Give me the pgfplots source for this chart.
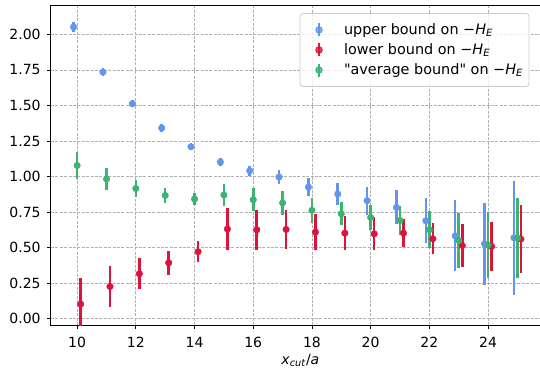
\documentclass[border=0pt]{standalone}
\usepackage{pgfplots}
\pgfplotsset{compat=1.18}
\usepackage{pgfplotstable}
\usepackage{fontspec}
\setmainfont{DejaVu Sans}
\definecolor{cblue}{RGB}{100,149,237}
\definecolor{cred}{RGB}{220,20,60}
\definecolor{cgreen}{RGB}{60,179,113}
\definecolor{cgrid}{RGB}{176,176,176}
\newcommand{\HE}{−\textit{H}\textsubscript{\textit{E}}}

\pgfplotstableread{
x y e
9.88 2.052 0.035
10.88 1.735 0.025
11.88 1.512 0.025
12.88 1.341 0.025
13.88 1.209 0.025
14.88 1.101 0.03
15.88 1.040 0.035
16.88 0.996 0.05
17.88 0.925 0.065
18.88 0.876 0.08
19.88 0.829 0.10
20.88 0.782 0.12
21.88 0.688 0.16
22.88 0.582 0.25
23.88 0.526 0.29
24.88 0.568 0.40
}\uppertab

\pgfplotstableread{
x y e
10.12 0.101 0.183
11.12 0.225 0.141
12.12 0.315 0.11
13.12 0.392 0.085
14.12 0.470 0.075
15.12 0.630 0.15
16.12 0.625 0.14
17.12 0.627 0.135
18.12 0.608 0.125
19.12 0.601 0.12
20.12 0.596 0.115
21.12 0.601 0.10
22.12 0.561 0.11
23.12 0.514 0.15
24.12 0.507 0.17
25.12 0.559 0.24
}\lowertab

\pgfplotstableread{
x y e
10 1.077 0.095
11 0.982 0.08
12 0.915 0.06
13 0.866 0.05
14 0.841 0.045
15 0.869 0.08
16 0.836 0.08
17 0.813 0.085
18 0.761 0.09
19 0.737 0.08
20 0.711 0.09
21 0.690 0.10
22 0.625 0.13
23 0.549 0.195
24 0.517 0.23
25 0.566 0.28
}\averagetab

\begin{document}
\fontsize{14}{17}\selectfont
\begin{tikzpicture}
\useasboundingbox (0pt,0pt) rectangle (540pt,370pt);
\begin{axis}[
  at={(51pt,45pt)}, anchor=south west,
  scale only axis, width=498.7pt, height=319pt,
  xmin=9.11, xmax=26.1, ymin=-0.046, ymax=2.20,
  xtick={10,12,...,24},
  ytick={0,0.25,...,2.0},
  xtick pos=bottom, ytick pos=left,
  tick align=outside,
  major tick length=3.5pt,
  every tick/.style={black, line width=0.8pt},
  axis line style={black, line width=1pt},
  /pgf/number format/assume math mode=true,
  yticklabel style={xshift=-2pt, /pgf/number format/.cd, fixed, fixed zerofill, precision=2},
  xticklabel style={yshift=-4pt, /pgf/number format/.cd, fixed, precision=0},
  ticklabel style={font=\fontsize{14}{17}\selectfont},
  grid=major,
  major grid style={cgrid, line width=0.8pt, dash pattern=on 3pt off 1.4pt},
  xlabel={\textit{x}\textsubscript{\textit{cut}}/\textit{a}},
  xlabel style={font=\fontsize{14}{17}\selectfont, yshift=3pt},
  clip=true,
  legend cell align=left,
  legend style={
    at={(0.4985,0.978)}, anchor=north west,
    draw=black!20, line width=0.8pt, rounded corners=3pt, fill=white, fill opacity=0.8, text opacity=1,
    font=\fontsize{14.4}{17}\selectfont,
    inner xsep=4pt, inner ysep=8pt, row sep=3pt,
  },
  legend image code/.code={
    \path[draw=none] (0pt,0pt) -- (38pt,0pt);
    \draw[line width=2.6pt] (15pt,-6.5pt) -- (15pt,6.5pt);
    \fill (15pt,0pt) circle (3.3pt);
  },
]
% upper bound
\addplot[cblue, line width=2.6pt, -, forget plot,
  quiver={u=0, v={2*\thisrow{e}}}]
  table[x=x, y expr={\thisrow{y}-\thisrow{e}}] {\uppertab};
\addplot[cblue, only marks, mark=*, mark size=3.3pt, mark options={draw=none, fill=cblue}]
  table[x=x, y=y] {\uppertab};
\addlegendentry{upper bound on \HE}
% lower bound
\addplot[cred, line width=2.6pt, -, forget plot,
  quiver={u=0, v={2*\thisrow{e}}}]
  table[x=x, y expr={\thisrow{y}-\thisrow{e}}] {\lowertab};
\addplot[cred, only marks, mark=*, mark size=3.3pt, mark options={draw=none, fill=cred}]
  table[x=x, y=y] {\lowertab};
\addlegendentry{lower bound on \HE}
% average
\addplot[cgreen, line width=2.6pt, -, forget plot,
  quiver={u=0, v={2*\thisrow{e}}}]
  table[x=x, y expr={\thisrow{y}-\thisrow{e}}] {\averagetab};
\addplot[cgreen, only marks, mark=*, mark size=3.3pt, mark options={draw=none, fill=cgreen}]
  table[x=x, y=y] {\averagetab};
\addlegendentry{\textquotedbl average bound\textquotedbl{} on \HE}
\end{axis}
\end{tikzpicture}
\end{document}
